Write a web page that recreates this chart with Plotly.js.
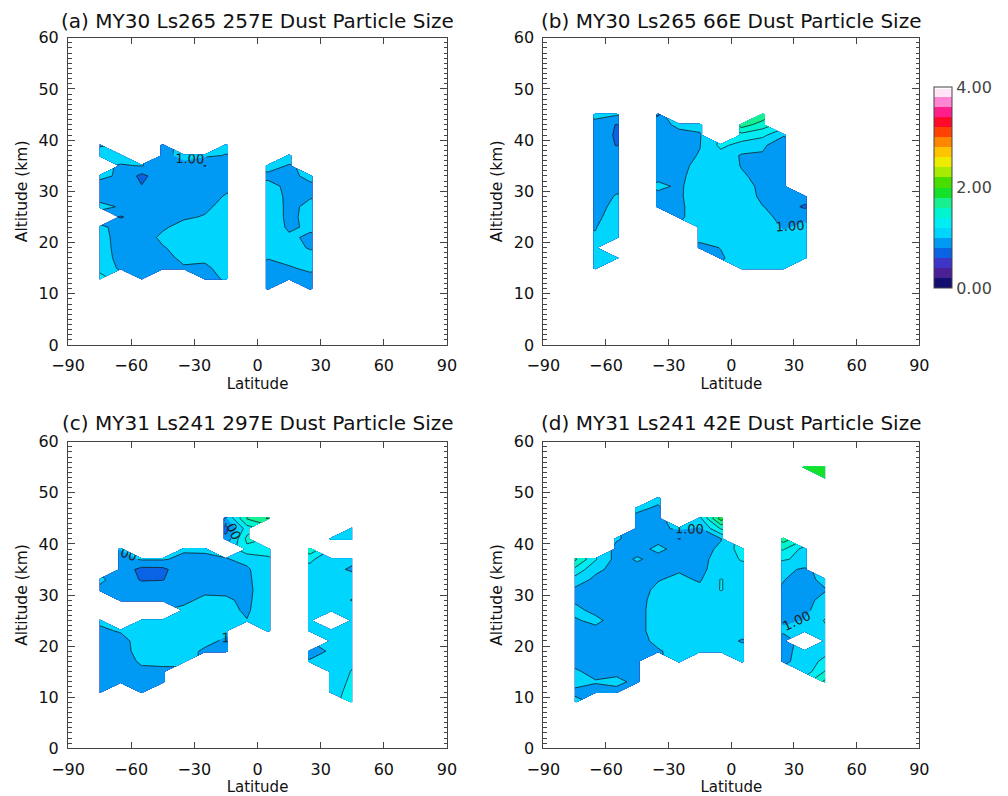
<!DOCTYPE html>
<html>
<head>
<meta charset="utf-8">
<script src="https://cdn.plot.ly/plotly-3.0.1.min.js"></script>
<style>
  html, body { margin: 0; padding: 0; background: #fff; }
  #chart { width: 1008px; height: 796px; }
</style>
</head>
<body>
<div id="chart"></div>
<script>
const _ = null;

// Grid: latitude columns (deg) and altitude levels (km)
const latitude = [-75, -65, -55, -45, -35, -25, -15, -5, 5, 15, 25, 35, 45];
const altitude = [9, 11, 13, 15, 17, 19, 21, 23, 25, 27, 29, 31, 33, 35, 37, 39, 41, 43, 45, 47, 49, 51, 53, 55, 57];

// Dust particle size (um); one array per latitude column, from 9 km upward (null = no retrieval)
const sizeA = [
  [_, _, 1.3, 1.12, 1.08, 1.06, 1.04, 1.02, _, 1.03, 0.96, 0.95, 1.03, _, 1.05, 0.99],
  [_, _, _, 0.97, 0.95, 0.95, 0.96, 0.97, 0.78, 0.99, 0.95, 0.95, 0.98, 0.99, 1.05],
  [_, _, 0.93, 0.93, 0.93, 0.93, 0.93, 0.93, 0.92, 0.92, 0.9, 0.81, 0.74, 1.005],
  [_, _, _, 0.95, 0.97, 0.99, 1.03, 0.98, 0.94, 0.94, 0.94, 0.94, 0.94, 0.94, 0.96, 0.98],
  [_, _, _, 0.99, 1.02, 1.05, 1.06, 1.05, 0.98, 0.95, 0.95, 0.95, 0.95, 0.96, 1.04],
  [_, _, 0.95, 0.97, 1.03, 1.07, 1.07, 1.06, 1.01, 0.97, 0.95, 0.95, 0.95, 0.79, 1.04],
  [_, _, 1.02, 1.06, 1.07, 1.08, 1.08, 1.08, 1.07, 1.05, 1.01, 0.97, 0.96, 0.96, 0.99, 1.06],
  [],
  [_, 0.9, 0.92, 0.96, 1.005, 1.07, 1.08, 1.08, 1.08, 1.08, 1.07, 1.04, 0.97, 1.05],
  [_, _, 0.9, 0.99, 1.03, 1.04, 1.02, 0.98, 0.97, 0.97, 0.97, 0.97, 0.96, 0.99, 1.06],
  [_, 0.9, 0.97, 1.02, 1.04, 0.99, 0.98, 1.02, 1.04, 1.03, 0.99, 0.97, 1.04],
  [],
  []
];

const sizeB = [
  [],
  [_, _, _, 1.05, 1.05, 1.02, 1.01, 0.995, 0.97, 0.95, 0.94, 0.94, 0.94, 0.94, 0.94, 0.94, 0.94, 0.95, 1.04],
  [_, _, _, _, 1.06, _, 1.07, 1.07, 1.06, 1.04, 1.01, 0.97, 0.95, 0.94, 0.94, 0.79, 0.77, 0.79, 1.02],
  [],
  [_, _, _, _, _, _, _, _, _, 0.94, 0.96, 1.03, 0.96, 0.94, 0.94, 0.94, 0.94, 0.95, 0.97],
  [_, _, _, _, _, _, _, _, 0.97, 0.97, 0.98, 0.98, 0.97, 0.96, 0.95, 0.95, 0.96, 1.03],
  [_, _, _, _, _, 0.95, 1.05, 1.07, 1.08, 1.08, 1.08, 1.07, 1.06, 1.04, 1.01, 0.995, 0.99, 1.03],
  [_, _, _, _, 0.98, 1.005, 1.08, 1.1, 1.1, 1.1, 1.1, 1.1, 1.1, 1.1, 1.12, 1.25],
  [_, _, _, 1.04, 1.08, 1.1, 1.1, 1.1, 1.1, 1.1, 1.1, 1.08, 1.02, 0.99, 0.98, 1.12, 1.33, 1.7],
  [_, _, _, 1.08, 1.08, 1.08, 1.07, 1.06, 1.04, 1.005, 0.96, 0.95, 0.95, 0.95, 0.97, 1.05, 1.25, 1.5, 1.75],
  [_, _, _, 1.1, 1.1, 1.08, 1.03, 0.99, 0.96, 0.94, 0.94, 0.94, 0.94, 0.94, 0.94, 0.81, 1.03],
  [_, _, _, _, 1.1, 1.08, 1.04, 1.02, 0.98, 0.76, 0.93],
  []
];

const sizeC = [
  [_, 0.93, 0.93, 0.93, 0.94, 0.95, 0.96, 0.98, 1.02, _, _, 0.97, 1.03],
  [_, _, 0.93, 0.93, 0.94, 0.95, 0.96, 1.01, _, _, 0.97, 0.94, 0.93, 0.92, 0.93, 1.01],
  [_, 0.93, 0.94, 0.97, 1.02, 1.05, 1.05, 1.04, 1.03, _, 0.95, 0.93, 0.78, 0.74, 1.02],
  [_, _, 0.93, 0.96, 1.04, 1.06, 1.06, 1.04, 1.02, _, 0.95, 0.93, 0.79, 0.75, 1.02],
  [_, _, _, _, 1.02, 1.07, 1.08, 1.08, 1.06, 1.03, 0.97, 0.95, 0.94, 0.94, 0.95, 1.03],
  [_, _, _, _, _, 0.97, 1.05, 1.08, 1.08, 1.07, 1.03, 0.97, 0.95, 0.95, 0.96, 1.03],
  [_, _, _, _, _, 0.94, 0.97, 1.04, 1.06, 1.04, 1.02, 0.97, 0.95, 0.96, 0.99, _, 0.86, 0.72, 0.98],
  [_, _, _, _, _, _, _, _, 1.005, 0.98, 0.97, 0.96, 0.97, 0.98, 1.04, 1.35, 1.45, 1.3, 1.62],
  [_, _, _, _, _, _, _, 1.04, 1.08, 1.1, 1.1, 1.1, 1.1, 1.1, 1.18, 1.25, _, _, 1.82],
  [],
  [_, _, _, _, 1.05, 0.82, _, 1.1, 1.1, 1.1, 1.1, 1.1, 1.1, 1.12, 1.25, 1.55],
  [_, 1.14, 1.12, 1.1, 1.08, 1.06, 1.08, 1.1, _, 1.1, 1.1, 1.1, 1.1, 1.06, 1.02, _, 1.1],
  [1.25, 1.25, 1.23, 1.21, 1.17, 1.12, 1.12, 1.12, 1.12, 1.1, 0.99, 1.08, 1.1, 0.97, 1.05, _, 1.1, 1.1]
];

const sizeD = [
  [1.03, 0.98, 1.03, 1.02, 0.96, 0.94, 0.94, 0.95, 0.98, 1.04, 0.98, 0.96, 1.12, 1.35, 1.65],
  [_, 0.95, 1.01, 0.96, 0.94, 0.94, 0.94, 0.95, 1.04, 0.96, 0.95, 0.94, 0.95, 1.05, 1.22],
  [_, 0.95, 1.04, 0.96, 0.93, 0.93, 0.93, 0.93, 0.93, 0.93, 0.93, 0.93, 0.93, 0.93, 0.93, 0.95, 1.02],
  [_, _, 0.96, 0.95, 0.93, 0.93, 0.93, 0.93, 0.93, 0.93, 0.93, 0.93, 0.93, 0.94, 1.02, 0.94, 0.93, 0.94, 0.96, 1.03],
  [_, _, _, _, _, 0.98, 1.05, 1.1, 1.1, 1.1, 1.08, 1.04, 0.99, 0.95, 0.94, 1.04, 0.95, 0.96, 0.97, 0.98, 1.04],
  [_, _, _, _, 1.04, 1.07, 1.1, 1.1, 1.1, 1.1, 1.1, 1.08, 1.04, 0.98, 0.95, 0.94, 0.79, 1.03],
  [_, _, _, _, _, 1.08, 1.1, 1.1, 1.1, 1.1, 1.1, 1.05, 0.98, 0.95, 0.94, 0.94, 0.95, 0.98, 1.15],
  [_, _, _, _, _, 1.08, 1.1, 1.1, 1.1, 1.1, 1.1, 1.21, 1.21, 1.1, 1.08, 1.03, 0.99, 1.42, 1.9],
  [_, _, _, _, 1.08, 1.1, 0.98, 1.1, 1.1, 1.1, 1.1, 1.1, 1.1, 1.12, 1.22, 1.3],
  [],
  [_, _, _, _, 0.95, 0.94, 0.95, 1.02, 0.98, 0.97, 0.97, 0.98, 1.005, 1.05, 1.22, 1.42, 1.7],
  [_, _, _, 1.08, 1.1, 1.08, _, 1.05, 1.005, 0.96, 0.95, 0.93, 0.94, 0.97, 1.15, 1.12, _, _, _, _, _, _, _, 1.9],
  [_, _, 1.65, 1.42, 1.25, 1.15, 1.1, 1.15, 1.22, 1.1, 1.05, 0.99, 1.05, _, _, _, _, _, _, _, _, _, 1.9, 1.9]
];

const panelTitles = [
  '(a) MY30 Ls265 257E Dust Particle Size',
  '(b) MY30 Ls265 66E Dust Particle Size',
  '(c) MY31 Ls241 297E Dust Particle Size',
  '(d) MY31 Ls241 42E Dust Particle Size'
];
const colorbarTicks = [0, 2, 4];

// Rainbow+white colour table, given at band centres on the 0-4 scale
const colorStops = [
  [-0.1, 'rgb(10,10,100)'], [0.1, 'rgb(25,20,125)'], [0.3, 'rgb(110,40,170)'],
  [0.5, 'rgb(30,60,215)'], [0.7, 'rgb(0,118,235)'], [0.9, 'rgb(0,168,248)'],
  [1.1, 'rgb(0,226,255)'], [1.3, 'rgb(0,240,240)'], [1.5, 'rgb(0,245,200)'],
  [1.7, 'rgb(25,238,140)'], [1.9, 'rgb(20,225,40)'], [2.1, 'rgb(70,222,0)'],
  [2.3, 'rgb(160,235,0)'], [2.5, 'rgb(235,240,0)'], [2.7, 'rgb(255,205,0)'],
  [2.9, 'rgb(255,150,0)'], [3.1, 'rgb(255,85,0)'], [3.3, 'rgb(255,15,10)'],
  [3.5, 'rgb(255,0,110)'], [3.7, 'rgb(255,80,190)'], [3.9, 'rgb(255,205,240)'],
  [4.1, 'rgb(255,255,255)']
];
// contour fills sample the scale on [-0.1, 4.1]; map to [0, 1]
const colorscale = colorStops.map(function (s, k) {
  let f = Math.round((s[0] + 0.1) / 4.2 * 1e6) / 1e6;
  if (k === 0) f = 0;
  if (k === colorStops.length - 1) f = 1;
  return [f, s[1]];
});

const W = 1008, H = 796;
const FONT = 'DejaVu Sans, Liberation Sans, sans-serif';
const INK = '#111';
const FRAME = '#444';

// convert per-column arrays into a row-major grid
function toGrid(cols) {
  return altitude.map(function (alt, r) {
    return cols.map(function (col) { return col[r] === undefined ? null : col[r]; });
  });
}

// plot-area boxes in pixels: [left, right, top, bottom]
const boxes = [
  [68, 447, 37.7, 345],
  [543.3, 919.3, 37.7, 345],
  [68, 447, 441.7, 748.3],
  [543.3, 919.3, 441.7, 748.3]
];
const titleY = [21, 21, 423, 423];
const grids = [sizeA, sizeB, sizeC, sizeD].map(toGrid);

const traces = [];
const layout = {
  width: W, height: H,
  margin: { l: 0, r: 0, t: 0, b: 0 },
  paper_bgcolor: '#fff', plot_bgcolor: '#fff',
  showlegend: false,
  font: { family: FONT, color: INK },
  annotations: []
};

grids.forEach(function (z, i) {
  const n = i + 1;
  const xa = n === 1 ? 'x' : 'x' + n;
  const ya = n === 1 ? 'y' : 'y' + n;
  const b = boxes[i];
  const common = {
    type: 'contour', x: latitude, y: altitude, z: z,
    xaxis: xa, yaxis: ya, connectgaps: false, hoverinfo: 'skip', showscale: false
  };

  // filled bands
  traces.push(Object.assign({}, common, {
    colorscale: colorscale, zmin: 0, zmax: 4, autocontour: false,
    contours: { coloring: 'fill', start: 0, end: 4, size: 0.2, showlines: false },
    line: { width: 0, smoothing: 0 },
    showscale: i === 1,
    colorbar: {
      x: 934 / W, xanchor: 'left', xpad: 0, ypad: 0,
      y: 1 - 187.5 / H, yanchor: 'middle',
      len: 201 / H, lenmode: 'fraction',
      thickness: 18, thicknessmode: 'pixels',
      outlinewidth: 1, outlinecolor: FRAME,
      tickvals: colorbarTicks, tickformat: '.2f', ticks: '',
      tickfont: { family: FONT, size: 16, color: '#444' }
    }
  }));
  // contour lines below and above 1.0
  [[0.2, 0.8], [1.2, 3.8]].forEach(function (lv) {
    traces.push(Object.assign({}, common, {
      autocontour: false,
      contours: { coloring: 'none', start: lv[0], end: lv[1], size: 0.2 },
      line: { color: '#1a1a1a', width: 0.8, smoothing: 0 }
    }));
  });
  // labelled 1.00 contour
  traces.push(Object.assign({}, common, {
    autocontour: false,
    contours: {
      coloring: 'none', start: 1, end: 1, size: 0.2,
      showlabels: true, labelformat: '.2f',
      labelfont: { family: FONT, size: 13, color: '#222' }
    },
    line: { color: '#1a1a1a', width: 0.8, smoothing: 0 }
  }));

  layout['xaxis' + (n === 1 ? '' : n)] = {
    domain: [b[0] / W, b[1] / W], anchor: ya,
    range: [-90, 90], tickmode: 'array', tickvals: [-90, -60, -30, 0, 30, 60, 90],
    ticks: 'inside', ticklen: 6, tickcolor: FRAME, tickwidth: 1,
    showline: true, linecolor: FRAME, linewidth: 1, mirror: 'ticks',
    showgrid: false, zeroline: false, fixedrange: true,
    tickfont: { family: FONT, size: 16, color: INK },
    ticklabelstandoff: 6,
    title: { text: 'Latitude', font: { family: FONT, size: 15, color: INK }, standoff: 4 }
  };
  layout['yaxis' + (n === 1 ? '' : n)] = {
    domain: [1 - b[3] / H, 1 - b[2] / H], anchor: xa,
    range: [0, 60], tickmode: 'linear', tick0: 0, dtick: 10,
    ticks: 'inside', ticklen: 7, tickcolor: FRAME, tickwidth: 1,
    minor: { ticks: 'inside', dtick: 1, ticklen: 3.5, tickcolor: FRAME, tickwidth: 1 },
    showline: true, linecolor: FRAME, linewidth: 1, mirror: 'ticks',
    showgrid: false, zeroline: false, fixedrange: true,
    tickfont: { family: FONT, size: 16, color: INK },
    ticklabelstandoff: 5,
    title: { text: 'Altitude (km)', font: { family: FONT, size: 15.5, color: INK }, standoff: 7 }
  };
  layout.annotations.push({
    text: panelTitles[i], xref: 'paper', yref: 'paper',
    x: (b[0] + b[1]) / 2 / W, y: 1 - titleY[i] / H,
    xanchor: 'center', yanchor: 'middle', showarrow: false,
    font: { family: FONT, size: 20, color: INK }
  });
});

Plotly.newPlot('chart', traces, layout, { staticPlot: true, displayModeBar: false });
</script>
</body>
</html>
